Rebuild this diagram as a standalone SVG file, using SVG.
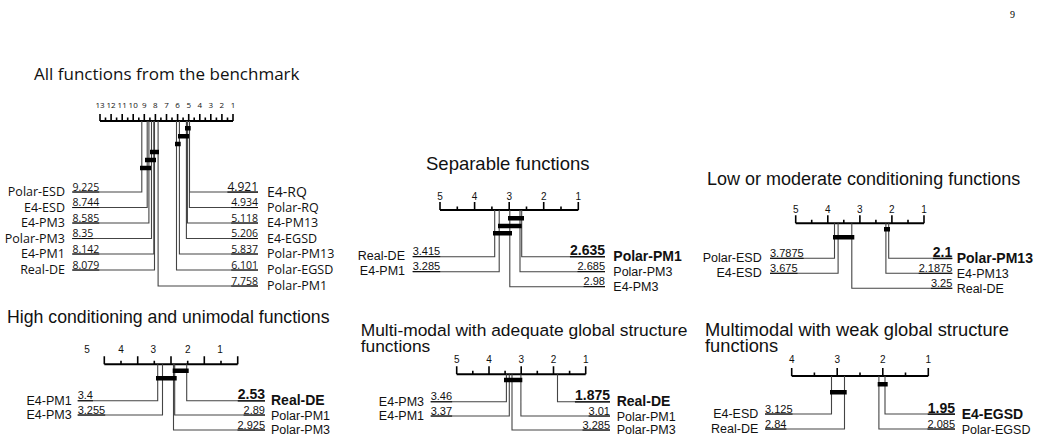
<svg xmlns="http://www.w3.org/2000/svg" width="1041" height="440" viewBox="0 0 1041 440">
<style>
.ax{stroke:#000;stroke-width:2;fill:none}
.tk{stroke:#000;stroke-width:1.6;fill:none}
.ln{stroke:#444;stroke-width:1.1;fill:none}
.bar{stroke:#000;stroke-width:4.5}
.t1{font-family:"Open Sans","Noto Sans",sans-serif;fill:#111}
.t{font-family:"Liberation Sans",Arial,sans-serif;fill:#111}
.tl{font-size:10px}
.lab{font-size:12.5px}
.num{font-size:11px;text-decoration:underline}
.bl{font-size:14px;font-weight:bold}
.e{text-anchor:end}
.m{text-anchor:middle}
</style>
<text x="1010" y="18" font-family="Liberation Serif,serif" font-size="10">9</text>

<g id="panel-all">
<text class="t1" x="34" y="80" font-size="17">All functions from the benchmark</text>
<g class="t1 m" font-size="8">
<text x="100" y="108">13</text><text x="111.1" y="108">12</text><text x="122.2" y="108">11</text><text x="133.2" y="108">10</text><text x="144.3" y="108">9</text><text x="155.4" y="108">8</text><text x="166.5" y="108">7</text><text x="177.6" y="108">6</text><text x="188.7" y="108">5</text><text x="199.8" y="108">4</text><text x="210.8" y="108">3</text><text x="221.9" y="108">2</text><text x="233" y="108">1</text>
</g>
<path class="ax" d="M100,121H233"/>
<path class="tk" d="M100,121V114M111.1,121V114M122.2,121V114M133.2,121V114M144.3,121V114M155.4,121V114M166.5,121V114M177.6,121V114M188.7,121V114M199.8,121V114M210.8,121V114M221.9,121V114M233,121V114M105.5,121V117.5M116.6,121V117.5M127.7,121V117.5M138.8,121V117.5M149.9,121V117.5M160.9,121V117.5M172,121V117.5M183.1,121V117.5M194.2,121V117.5M205.3,121V117.5M216.4,121V117.5M227.5,121V117.5"/>
</g>
<g id="panel-sep">
<text class="t" x="426" y="170" font-size="18.5">Separable functions</text>
<g class="t m tl"><text x="440" y="199.5">5</text><text x="474.6" y="199.5">4</text><text x="509.2" y="199.5">3</text><text x="543.7" y="199.5">2</text><text x="578.3" y="199.5">1</text></g>
<path class="ax" d="M440,210H578.3"/>
<path class="tk" d="M440,210V202M474.6,210V202M509.2,210V202M543.7,210V202M578.3,210V202M457.3,210V206.5M491.9,210V206.5M526.5,210V206.5M561,210V206.5"/>
</g>
<g id="panel-low">
<text class="t" x="707" y="185" font-size="18">Low or moderate conditioning functions</text>
<g class="t m tl"><text x="795.7" y="213">5</text><text x="827.8" y="213">4</text><text x="859.9" y="213">3</text><text x="891.9" y="213">2</text><text x="924" y="213">1</text></g>
<path class="ax" d="M795.7,223.3H924"/>
<path class="tk" d="M795.7,223.3V215.3M827.8,223.3V215.3M859.9,223.3V215.3M891.9,223.3V215.3M924,223.3V215.3M811.7,223.3V219.8M843.8,223.3V219.8M875.9,223.3V219.8M908,223.3V219.8"/>
</g>
<g id="panel-high">
<text class="t" x="7" y="323.3" font-size="17.7">High conditioning and unimodal functions</text>
<g class="t m tl"><text x="87" y="352.7">5</text><text x="121" y="352.7">4</text><text x="153.3" y="352.7">3</text><text x="187.7" y="352.7">2</text><text x="220" y="352.7">1</text></g>
<path class="ax" d="M104.3,364.3H237.7"/>
<path class="tk" d="M104.3,364.3V356.3M137.7,364.3V356.3M171,364.3V356.3M204.3,364.3V356.3M237.7,364.3V356.3M121,364.3V360.8M154.3,364.3V360.8M187.7,364.3V360.8M221,364.3V360.8"/>
</g>
<g id="panel-adeq">
<text class="t" x="360.7" y="336" font-size="17.4">Multi-modal with adequate global structure</text>
<text class="t" x="360.7" y="352" font-size="17.4">functions</text>
<g class="t m tl"><text x="456.7" y="362.7">5</text><text x="489" y="362.7">4</text><text x="521.2" y="362.7">3</text><text x="553.5" y="362.7">2</text><text x="585.7" y="362.7">1</text></g>
<path class="ax" d="M456.7,374.3H585.7"/>
<path class="tk" d="M456.7,374.3V366.3M489,374.3V366.3M521.2,374.3V366.3M553.5,374.3V366.3M585.7,374.3V366.3M472.8,374.3V370.8M505.1,374.3V370.8M537.3,374.3V370.8M569.6,374.3V370.8"/>
</g>
<g id="panel-weak">
<text class="t" x="705" y="336" font-size="18.3">Multimodal with weak global structure</text>
<text class="t" x="705" y="352" font-size="18.3">functions</text>
<g class="t m tl"><text x="791.7" y="363.3">4</text><text x="837.2" y="363.3">3</text><text x="882.8" y="363.3">2</text><text x="928.3" y="363.3">1</text></g>
<path class="ax" d="M791.7,376H928.3"/>
<path class="tk" d="M791.7,376V368M837.2,376V368M882.8,376V368M928.3,376V368M814.4,376V372.5M860,376V372.5M905.5,376V372.5"/>
</g>

<g id="connectors">
<path class="ln" d="M141.8,121V192H72M147.2,121V207.5H72M148.9,121V223H72M151.5,121V238.5H72M153.8,121V254H72M154.5,121V270H72M189.5,121V192H258M189.4,121V207.5H258M187.4,121V223H258M186.4,121V238.5H258M179.4,121V254H258M176.5,121V270H258M158.1,121V286H258"/>
<path class="ln" d="M494.7,210V256.7H412.7M499.2,210V271.7H412.7M521.7,210V256.7H605M520,210V271.7H605M509.8,210V286.7H605"/>
<path class="ln" d="M834.5,223.3V258.3H770M838.1,223.3V273.3H770M888.7,223.3V258.3H952.3M885.9,223.3V273.3H952.3M851.8,223.3V288.3H952.3"/>
<path class="ln" d="M157.7,364.3V400.7H77.7M162.5,364.3V415H77.7M186.7,364.3V400.7H265M174.7,364.3V415H265M173.5,364.3V430H265"/>
<path class="ln" d="M506.4,374.3V401.7H430.7M509.3,374.3V416H430.7M557.5,374.3V401.7H610M520.9,374.3V416H610M512,374.3V430H610"/>
<path class="ln" d="M831.5,376V414H765M844.5,376V429H765M885,376V414H955M878.9,376V429H955"/>
<g class="bar">
<path d="M185,128.3H190.7M178,136.3H189M175,144H180.7M150,152H159M145,160H156M140,168H151"/>
<path d="M508,218.3H524M498,226H521.7M493,233.3H512"/>
<path d="M884,229.3H890M833,237.3H854.3"/>
<path d="M172.7,370.7H188.7M156,378.3H176.7"/>
<path d="M504,380H522.3"/>
<path d="M877.7,384.3H887.7M830,392.3H846.7"/>
</g>
</g>

<g id="labels-all" class="t1">
<g font-size="12.5" class="e"><text x="65" y="196">Polar-ESD</text><text x="65" y="211.5">E4-ESD</text><text x="65" y="227">E4-PM3</text><text x="65" y="242.5">Polar-PM3</text><text x="65" y="258">E4-PM1</text><text x="65" y="274">Real-DE</text></g>
<g font-size="10.5" text-decoration="underline"><text x="72.5" y="190.5">9.225</text><text x="72.5" y="206">8.744</text><text x="72.5" y="221.5">8.585</text><text x="72.5" y="237">8.35</text><text x="72.5" y="252.5">8.142</text><text x="72.5" y="268.5">8.079</text></g>
<g font-size="10.5" text-decoration="underline" class="e"><text x="258" y="190.5" font-size="12">4.921</text><text x="258" y="206">4.934</text><text x="258" y="221.5">5.118</text><text x="258" y="237">5.206</text><text x="258" y="252.5">5.837</text><text x="258" y="268.5">6.101</text><text x="258" y="284.5">7.758</text></g>
<g font-size="12.5"><text x="267" y="196.5" font-size="14">E4-RQ</text><text x="267" y="211.5">Polar-RQ</text><text x="267" y="227">E4-PM13</text><text x="267" y="242.5">E4-EGSD</text><text x="267" y="258">Polar-PM13</text><text x="267" y="274">Polar-EGSD</text><text x="267" y="290">Polar-PM1</text></g>
</g>
<g id="labels-sep" class="t">
<text class="lab e" x="405" y="260">Real-DE</text><text class="lab e" x="405" y="275">E4-PM1</text>
<text class="num" x="412.7" y="255">3.415</text><text class="num" x="412.7" y="270">3.285</text>
<text class="bl e" x="605" y="255" text-decoration="underline">2.635</text><text class="num e" x="605" y="270">2.685</text><text class="num e" x="605" y="285">2.98</text>
<text class="bl" x="613.3" y="261">Polar-PM1</text><text class="lab" x="613.3" y="276">Polar-PM3</text><text class="lab" x="613.3" y="291">E4-PM3</text>
</g>
<g id="labels-low" class="t">
<text class="lab e" x="761.7" y="262">Polar-ESD</text><text class="lab e" x="761.7" y="277">E4-ESD</text>
<text class="num" x="770" y="256.8">3.7875</text><text class="num" x="770" y="271.8">3.675</text>
<text class="bl e" x="952.3" y="256.8" text-decoration="underline">2.1</text><text class="num e" x="952.3" y="271.8">2.1875</text><text class="num e" x="952.3" y="286.8">3.25</text>
<text class="bl" x="956.7" y="263">Polar-PM13</text><text class="lab" x="956.7" y="278">E4-PM13</text><text class="lab" x="956.7" y="293">Real-DE</text>
</g>
<g id="labels-high" class="t">
<text class="lab e" x="71.7" y="404.5">E4-PM1</text><text class="lab e" x="71.7" y="419">E4-PM3</text>
<text class="num" x="77.7" y="399.2">3.4</text><text class="num" x="77.7" y="413.5">3.255</text>
<text class="bl e" x="265" y="399.2" text-decoration="underline">2.53</text><text class="num e" x="265" y="413.5">2.89</text><text class="num e" x="265" y="428.5">2.925</text>
<text class="bl" x="271" y="405">Real-DE</text><text class="lab" x="271" y="419.5">Polar-PM1</text><text class="lab" x="271" y="434">Polar-PM3</text>
</g>
<g id="labels-adeq" class="t">
<text class="lab e" x="424" y="405.5">E4-PM3</text><text class="lab e" x="424" y="420">E4-PM1</text>
<text class="num" x="430.7" y="400.2">3.46</text><text class="num" x="430.7" y="414.5">3.37</text>
<text class="bl e" x="610" y="400.2" text-decoration="underline">1.875</text><text class="num e" x="610" y="414.5">3.01</text><text class="num e" x="610" y="428.5">3.285</text>
<text class="bl" x="616.7" y="406">Real-DE</text><text class="lab" x="616.7" y="420.5">Polar-PM1</text><text class="lab" x="616.7" y="434">Polar-PM3</text>
</g>
<g id="labels-weak" class="t">
<text class="lab e" x="758.3" y="418">E4-ESD</text><text class="lab e" x="758.3" y="433">Real-DE</text>
<text class="num" x="765" y="412.5">3.125</text><text class="num" x="765" y="427.5">2.84</text>
<text class="bl e" x="955" y="412.5" text-decoration="underline">1.95</text><text class="num e" x="955" y="427.5">2.085</text>
<text class="bl" x="961.7" y="419">E4-EGSD</text><text class="lab" x="961.7" y="433.5">Polar-EGSD</text>
</g>
</svg>
